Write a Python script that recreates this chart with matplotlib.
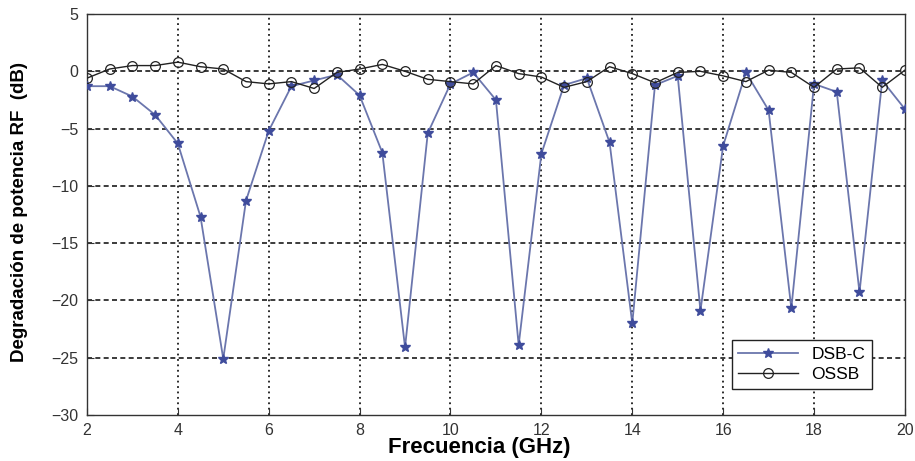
import numpy as np
import matplotlib.pyplot as plt

plt.rcParams['font.family'] = ['Liberation Sans', 'DejaVu Sans']

# frecuencia (GHz)
freq = np.arange(2, 20.01, 0.5)

# degradacion de potencia RF (dB)
dsb_c = [-1.3, -1.3, -2.2, -3.8, -6.3, -12.7, -25.1, -11.3, -5.2, -1.3,
         -0.8, -0.3, -2.1, -7.1, -24.1, -5.4, -1.1, -0.1, -2.5, -23.9,
         -7.2, -1.2, -0.6, -6.2, -22.0, -1.2, -0.4, -20.9, -6.5, -0.1,
         -3.4, -20.7, -1.1, -1.8, -19.3, -0.8, -3.3]
ossb = [-0.6, 0.2, 0.5, 0.5, 0.8, 0.4, 0.2, -0.9, -1.1, -0.9,
        -1.5, -0.1, 0.2, 0.6, 0.0, -0.7, -0.9, -1.1, 0.5, -0.2,
        -0.5, -1.4, -0.9, 0.4, -0.2, -1.0, -0.1, 0.0, -0.4, -0.9,
        0.1, -0.1, -1.4, 0.2, 0.3, -1.4, 0.1]

xticks = np.arange(2, 21, 2)
yticks = np.arange(-30, 6, 5)

fig = plt.figure(figsize=(9.15, 4.61), dpi=100)
ax = fig.add_axes([0.095, 0.0998, 0.894, 0.8698])

ax.plot(freq, dsb_c, color='#6b76ad', lw=1.3, marker='*', ms=7,
        mfc='#3f4c9c', mec='#3f4c9c', label='DSB-C', zorder=3)
ax.plot(freq, ossb, color='#222222', lw=1.0, marker='o', ms=7,
        mfc='none', mec='#222222', mew=0.9, label='OSSB', zorder=4)

ax.set_xlim(2, 20)
ax.set_ylim(-30, 5)
ax.set_xticks(xticks)
ax.set_yticks(yticks)
ax.tick_params(direction='in', length=5, labelsize=11.5, colors='#333333',
               pad=6)

# matlab style grid
for x in xticks[1:-1]:
    ax.axvline(x, color='#1a1a1a', lw=1.3, ls=(0, (1, 2)), zorder=1)
for y in yticks[1:-1]:
    ax.axhline(y, color='#1a1a1a', lw=1.2, ls=(0, (3, 2)), zorder=1)

for s in ax.spines.values():
    s.set_color('#333333')
    s.set_linewidth(1.0)

ax.set_xlabel('Frecuencia (GHz)', fontsize=16, fontweight='bold')
ax.xaxis.set_label_coords(0.48, -0.055)
ax.set_ylabel('Degradación de potencia RF  (dB)', fontsize=13.5,
              fontweight='bold')
ax.yaxis.set_label_coords(-0.072, 0.506)

leg = ax.legend(loc='lower right', bbox_to_anchor=(0.96, 0.065),
                borderaxespad=0, fontsize=12.5, fancybox=False,
                framealpha=1, edgecolor='#222222', borderpad=0.4,
                handlelength=3.4, labelspacing=0.3)
leg.get_frame().set_linewidth(1.0)

fig.savefig('out.png', dpi=100)
